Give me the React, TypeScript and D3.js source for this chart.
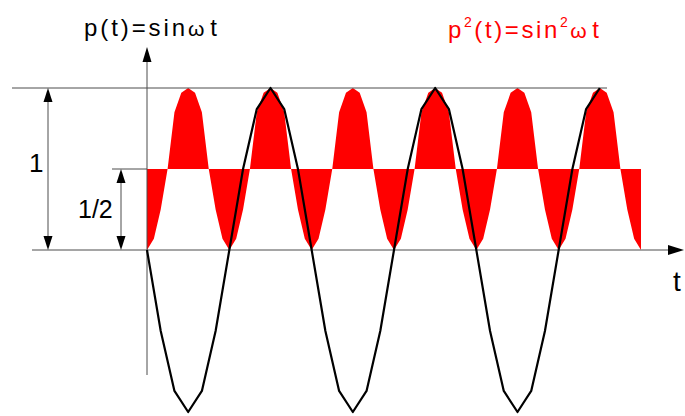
import React from "react";
import * as d3 from "d3";

// phase in degrees, black curve p(t) sampled every 30deg (as drawn: goes negative first)
const blackPhase = [
  0, 30, 60, 90, 120, 150, 180, 210, 240, 270, 300, 330,
  360, 390, 420, 450, 480, 510, 540, 570, 600, 630, 660, 690,
  720, 750, 780, 810, 840, 870, 900, 930, 960, 990,
];
const blackValues = [
  0, -0.5, -0.87, -1, -0.87, -0.5, 0, 0.5, 0.87, 1, 0.87, 0.5,
  0, -0.5, -0.87, -1, -0.87, -0.5, 0, 0.5, 0.87, 1, 0.87, 0.5,
  0, -0.5, -0.87, -1, -0.87, -0.5, 0, 0.5, 0.87, 1,
];

// red curve p^2(t) sampled every 15deg (peaks read a bit fuller than trough)
const redPhase = [
  0, 15, 30, 45, 60, 75, 90, 105, 120, 135, 150, 165,
  180, 195, 210, 225, 240, 255, 270, 285, 300, 315, 330, 345,
  360, 375, 390, 405, 420, 435, 450, 465, 480, 495, 510, 525,
  540, 555, 570, 585, 600, 615, 630, 645, 660, 675, 690, 705,
  720, 735, 750, 765, 780, 795, 810, 825, 840, 855, 870, 885,
  900, 915, 930, 945, 960, 975, 990, 1005, 1020, 1035, 1050, 1065,
  1080,
];
const redValues = [
  0, 0.07, 0.25, 0.5, 0.85, 0.97, 1, 0.97, 0.85, 0.5, 0.25, 0.07,
  0, 0.07, 0.25, 0.5, 0.85, 0.97, 1, 0.97, 0.85, 0.5, 0.25, 0.07,
  0, 0.07, 0.25, 0.5, 0.85, 0.97, 1, 0.97, 0.85, 0.5, 0.25, 0.07,
  0, 0.07, 0.25, 0.5, 0.85, 0.97, 1, 0.97, 0.85, 0.5, 0.25, 0.07,
  0, 0.07, 0.25, 0.5, 0.85, 0.97, 1, 0.97, 0.85, 0.5, 0.25, 0.07,
  0, 0.07, 0.25, 0.5, 0.85, 0.97, 1, 0.97, 0.85, 0.5, 0.25, 0.07,
  0,
];

const levelOne = 1;
const levelHalf = 0.5;

const W = 685;
const H = 416;
const font = "'Liberation Sans', Arial, sans-serif";
const axisColor = "#4d4d4d";

const App = () => {
  const x = d3.scaleLinear().domain([0, 1080]).range([147, 641]);
  const y = d3.scaleLinear().domain([0, 1]).range([250, 88]);

  const blackPts: [number, number][] = blackPhase.map((p, i) => [p, blackValues[i]]);
  const redPts: [number, number][] = redPhase.map((p, i) => [p, redValues[i]]);

  const area = d3
    .area<[number, number]>()
    .x((d) => x(d[0]))
    .y0(y(levelHalf))
    .y1((d) => y(d[1]));
  const line = d3
    .line<[number, number]>()
    .x((d) => x(d[0]))
    .y((d) => y(d[1]));

  const x0 = x(0);
  const yZero = y(0);
  const yOne = y(levelOne);
  const yHalf = y(levelHalf);

  // arrowhead: tip at (tx,ty)
  const head = (tx: number, ty: number, dir: string, len = 14, hw = 4.5) => {
    if (dir === "up") return `M${tx},${ty}L${tx - hw},${ty + len}L${tx + hw},${ty + len}Z`;
    if (dir === "down") return `M${tx},${ty}L${tx - hw},${ty - len}L${tx + hw},${ty - len}Z`;
    return `M${tx},${ty}L${tx - len},${ty - hw}L${tx - len},${ty + hw}Z`;
  };

  const dimX1 = 48;
  const dimX2 = 121;

  return (
    <svg
      width={W}
      height={H}
      style={{ position: "fixed", left: 0, top: 0, background: "#fff" }}
    >
      {/* red area between p^2 and 1/2 */}
      <path d={area(redPts) || ""} fill="#ff0000" stroke="none" />

      {/* reference lines */}
      <line x1={12} x2={607} y1={yOne} y2={yOne} stroke={axisColor} strokeWidth={1} />
      <line x1={112} x2={x0} y1={yHalf} y2={yHalf} stroke={axisColor} strokeWidth={1} />

      {/* horizontal axis */}
      <line x1={32} x2={672} y1={yZero} y2={yZero} stroke={axisColor} strokeWidth={1} />
      <path d={head(684, yZero, "right", 16, 5)} fill="#000" />

      {/* vertical axis */}
      <line x1={x0} x2={x0} y1={58} y2={375} stroke={axisColor} strokeWidth={1} />
      <path d={head(x0, 47, "up", 15, 4.5)} fill="#000" />

      {/* dimension "1" */}
      <line x1={dimX1} x2={dimX1} y1={yOne + 8} y2={yZero - 8} stroke={axisColor} strokeWidth={1} />
      <path d={head(dimX1, yOne, "up")} fill="#000" />
      <path d={head(dimX1, yZero, "down")} fill="#000" />

      {/* dimension "1/2" */}
      <line x1={dimX2} x2={dimX2} y1={yHalf + 8} y2={yZero - 8} stroke={axisColor} strokeWidth={1} />
      <path d={head(dimX2, yHalf, "up")} fill="#000" />
      <path d={head(dimX2, yZero, "down")} fill="#000" />

      {/* black sine curve */}
      <path
        d={line(blackPts) || ""}
        fill="none"
        stroke="#000"
        strokeWidth={2.2}
        strokeLinejoin="round"
      />

      {/* labels */}
      <text x={84} y={36} fontFamily={font} fontSize={24} fill="#000" textLength={133} lengthAdjust="spacing">
        p(t)=sin<tspan fontSize={21}>ω</tspan>
        <tspan dx={3}>t</tspan>
      </text>
      <text x={448} y={38} fontFamily={font} fontSize={24} fill="#ff0000" textLength={151} lengthAdjust="spacing">
        p<tspan fontSize={14} dy={-11}>2</tspan>
        <tspan dy={11}>(t)=sin</tspan>
        <tspan fontSize={14} dy={-11}>2</tspan>
        <tspan dy={11} fontSize={21}>ω</tspan>
        <tspan dx={3}>t</tspan>
      </text>
      <text x={29} y={172} fontFamily={font} fontSize={26} fill="#000">
        1
      </text>
      <text x={78} y={218} fontFamily={font} fontSize={25} fill="#000">
        1/2
      </text>
      <text x={673} y={291} fontFamily={font} fontSize={28} fill="#000">
        t
      </text>
    </svg>
  );
};

export default App;
